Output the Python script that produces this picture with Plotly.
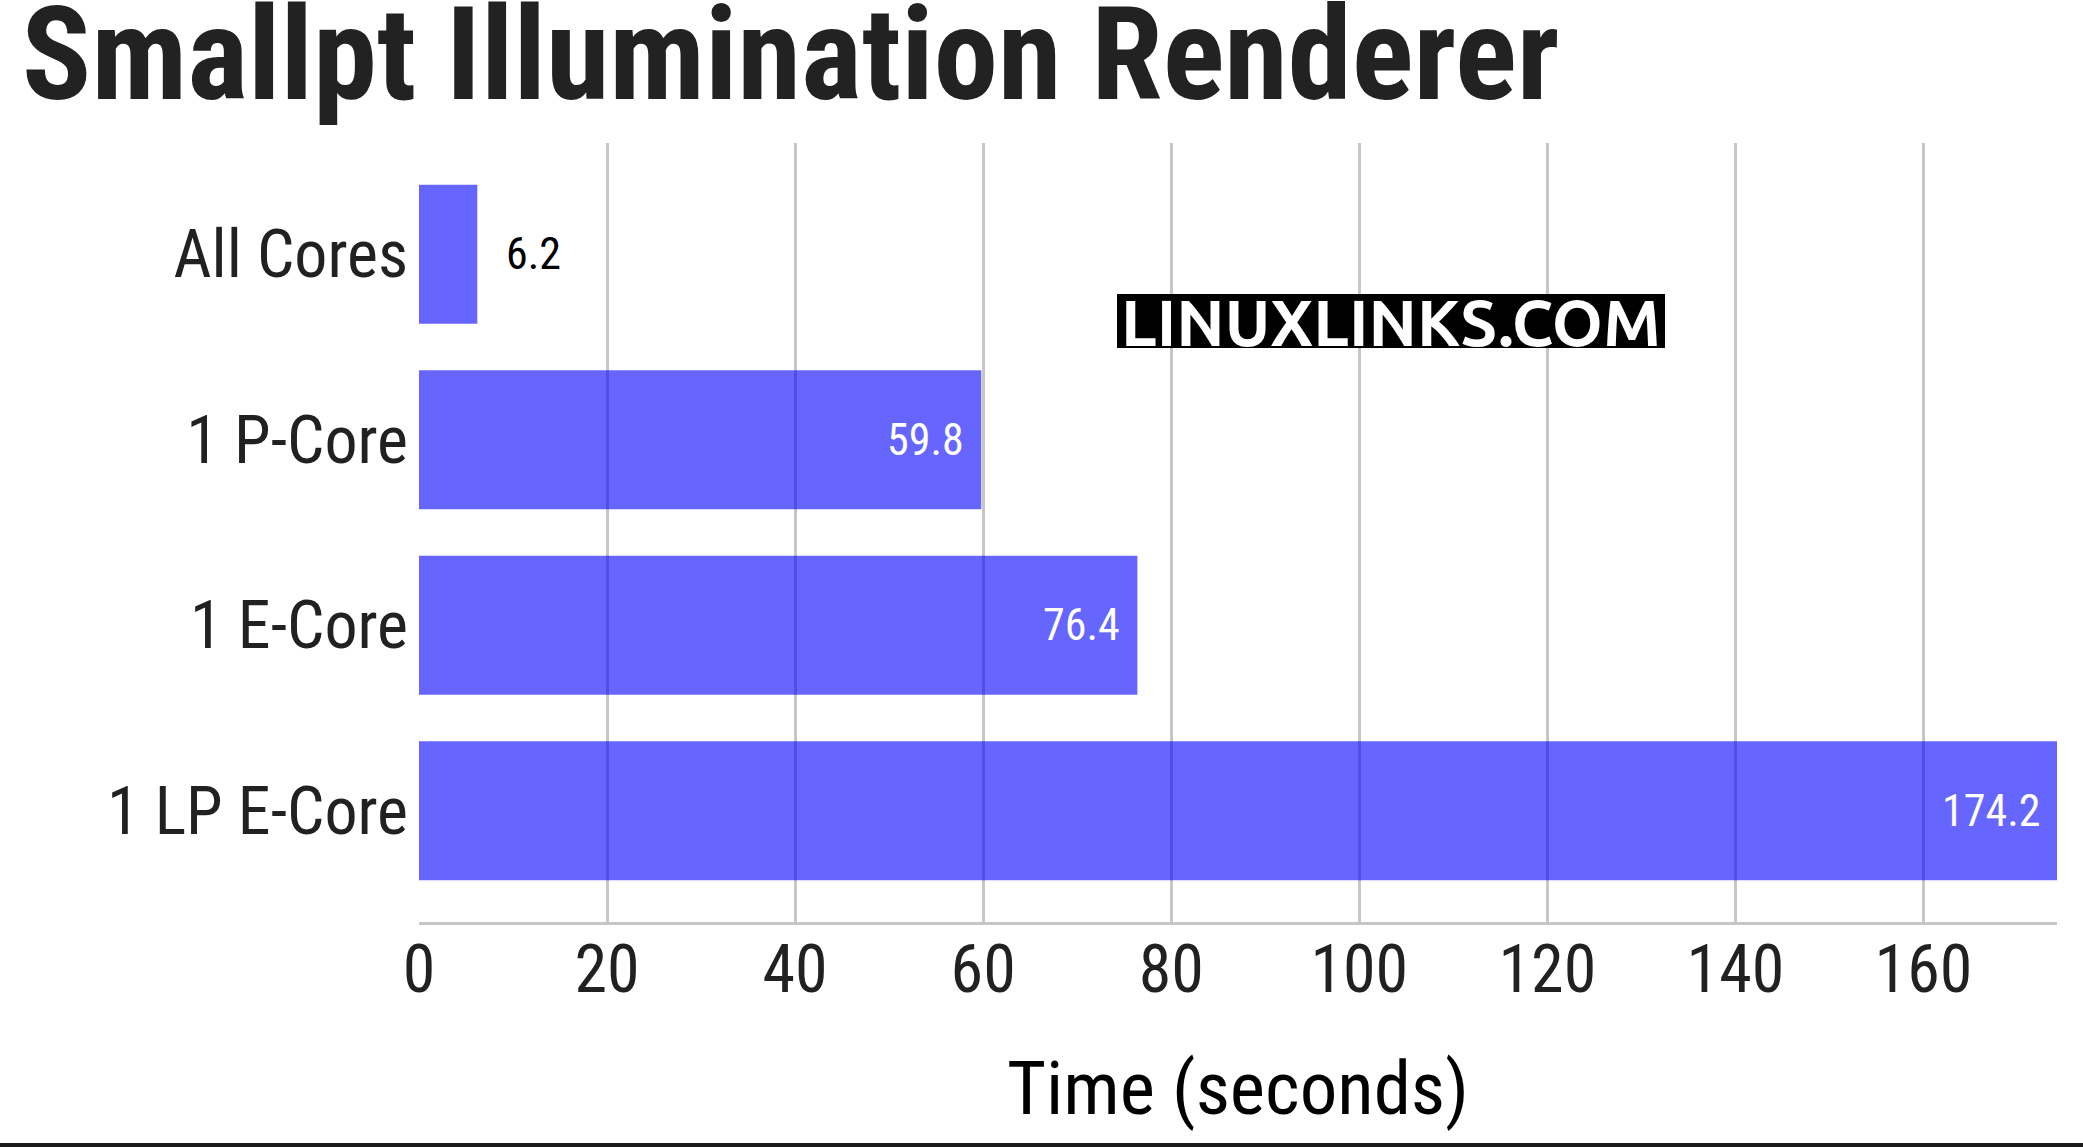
import plotly.graph_objects as go

categories = ["All Cores", "1 P-Core", "1 E-Core", "1 LP E-Core"]
times = [6.2, 59.8, 76.4, 174.2]
x_ticks = [0, 20, 40, 60, 80, 100, 120, 140, 160]

W, H = 2083, 1147
ML, MR, MT, MB = 419, 26, 143, 225
PW, PH = W - ML - MR, H - MT - MB

TXT = "#212121"
GRID = "#c6c6c6"
FONT = "Roboto Condensed"

def px_x(px):
    return (px - ML) / PW

def px_y(py):
    return (H - MB - py) / PH

fig = go.Figure()
fig.add_trace(go.Bar(
    y=categories, x=times, orientation="h",
    marker=dict(color="rgba(0,0,255,0.6)", line=dict(width=0)),
    hoverinfo="x+y",
))

# value labels
for c, v in zip(categories, times):
    inside = v > 20
    fig.add_annotation(
        x=v, y=c, xref="x", yref="y", showarrow=False,
        text=f"{v:.1f}",
        xanchor="right" if inside else "left",
        xshift=-15 if inside else 27,
        font=dict(family=FONT, size=44, color="white" if inside else "black"),
    )

# watermark
fig.add_shape(type="rect", xref="paper", yref="paper",
              x0=px_x(1117), x1=px_x(1665), y0=px_y(348), y1=px_y(294),
              fillcolor="black", line=dict(width=0), layer="above")
fig.add_annotation(x=px_x(1391), y=px_y(321), xref="paper", yref="paper", showarrow=False,
                   xanchor="center", yanchor="middle", text="<b>LINUXLINKS.COM</b>",
                   font=dict(family="Ubuntu", size=65, color="white"))

# bottom rule
fig.add_shape(type="line", xref="paper", yref="paper",
              x0=px_x(0), x1=px_x(W), y0=px_y(1145), y1=px_y(1145),
              line=dict(color="#1a1a1a", width=4), layer="above")

fig.update_layout(
    width=W, height=H,
    margin=dict(l=ML, r=MR, t=MT, b=MB, autoexpand=False),
    paper_bgcolor="white", plot_bgcolor="white",
    bargap=0.25,
    showlegend=False,
    font=dict(family=FONT, color=TXT),
    title=dict(text="<b>Smallpt Illumination Renderer</b>", x=0.0105, xanchor="left",
               xref="container", y=0.953, yanchor="middle",
               font=dict(family=FONT, size=129, color="#222222")),
    xaxis=dict(range=[0, 174.2], tickvals=x_ticks, ticktext=[str(t) for t in x_ticks],
               showgrid=True, gridcolor=GRID, gridwidth=3, zeroline=False,
               showline=True, linecolor=GRID, linewidth=3, ticks="",
               tickfont=dict(family=FONT, size=66, color=TXT), ticklabelstandoff=-12,
               title=dict(text="Time (seconds)", font=dict(family=FONT, size=75, color="black"), standoff=55)),
    yaxis=dict(categoryorder="array", categoryarray=categories, range=[3.6, -0.6],
               showgrid=False, zeroline=False, showline=False, ticks="",
               tickfont=dict(family=FONT, size=66, color=TXT), ticklabelstandoff=10),
)

fig.write_html("out.html", config={"displayModeBar": False},
               post_script="document.body.style.margin='0px';")
